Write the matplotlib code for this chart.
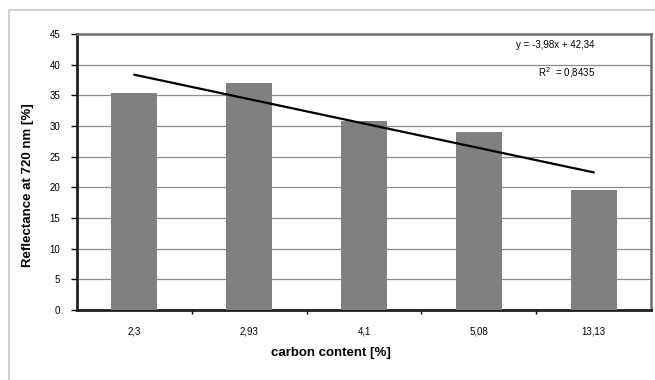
import matplotlib.pyplot as plt
from matplotlib.patches import Rectangle

# values
categories = ["2,3", "2,93", "4,1", "5,08", "13,13"]
reflectance = [35.3, 37.0, 30.8, 29.0, 19.6]
slope, intercept = -3.98, 42.34
r2_text = "0,8435"

plt.rcParams['font.family'] = ['Liberation Sans Narrow', 'Liberation Sans', 'DejaVu Sans']

fig = plt.figure(figsize=(6.55, 3.8), dpi=100)
# outer chart frame
fig.patches.append(Rectangle((9 / 655, -0.1), 1.0, 1 - 10 / 380 + 0.1,
                             transform=fig.transFigure, fill=False,
                             edgecolor="#c8c8c8", linewidth=1.2))

ax = fig.add_axes([77 / 655, 1 - 310 / 380, (651 - 77) / 655, (310 - 34) / 380])

xpos = list(range(len(categories)))
ax.bar(xpos, reflectance, width=0.4, color="#808080", zorder=3)

# linear trend line, x = 1..5 as in Excel
trend_x = [xpos[0], xpos[-1]]
trend_y = [slope * (xpos[0] + 1) + intercept, slope * (xpos[-1] + 1) + intercept]
ax.plot(trend_x, trend_y, color="black", linewidth=1.6, zorder=4)

ax.set_xlim(-0.5, len(categories) - 0.5)
ax.set_ylim(0, 45)
ax.set_yticks(range(0, 46, 5))
ax.yaxis.grid(True, color="#8c8c8c", linewidth=0.9, zorder=0)
ax.set_axisbelow(True)

ax.set_xticks(xpos)
ax.set_xticklabels(categories, fontsize=7)
ax.set_xticks([i + 0.5 for i in xpos[:-1]], minor=True)
ax.tick_params(axis="x", which="major", length=0, pad=12)
ax.tick_params(axis="x", which="minor", length=3, width=1, direction="out")
ax.tick_params(axis="y", labelsize=7, length=4, width=1, pad=8)

for side in ["left", "bottom"]:
    ax.spines[side].set_color("#202020")
    ax.spines[side].set_linewidth(2)
for side in ["top", "right"]:
    ax.spines[side].set_color("#6e6e6e")
    ax.spines[side].set_linewidth(1.8)

eq = "y = %sx + %s" % (str(slope).replace(".", ","), str(intercept).replace(".", ","))
ax.text(0.833, 0.96, eq, transform=ax.transAxes, fontsize=7, ha="center", va="center")
ax.text(0.852, 0.859, "R$^2$  = " + r2_text, transform=ax.transAxes,
        fontsize=7, ha="center", va="center")

fig.text(28 / 655, 1 - 185 / 380, "Reflectance at 720 nm [%]", rotation=90,
         fontsize=9.5, fontweight="bold", ha="center", va="center",
         family=['Liberation Sans', 'DejaVu Sans'])
fig.text(331 / 655, 1 - 353 / 380, "carbon content [%]", fontsize=9.5,
         fontweight="bold", ha="center", va="center",
         family=['Liberation Sans', 'DejaVu Sans'])

fig.savefig("out.png", dpi=100)
